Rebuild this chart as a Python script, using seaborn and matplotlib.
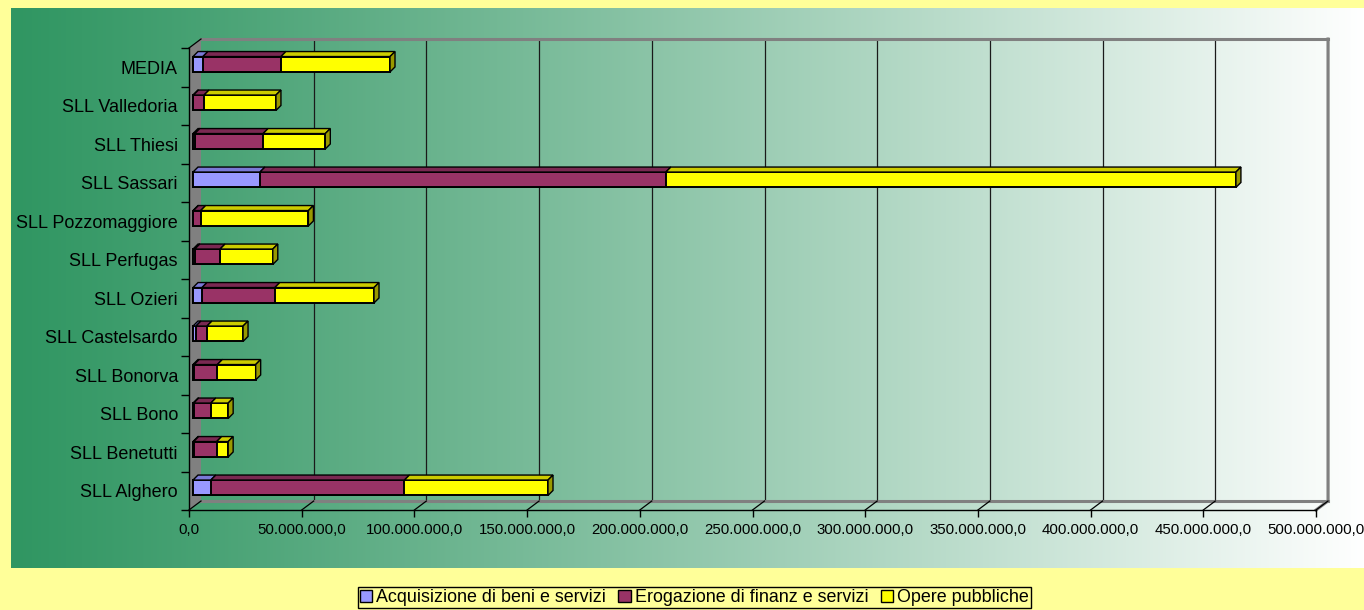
import numpy as np
import pandas as pd
import seaborn as sns
import matplotlib.pyplot as plt
from matplotlib.patches import Polygon, Patch
from matplotlib.transforms import ScaledTranslation
from matplotlib.ticker import FuncFormatter

# values (euro)
categories = ["MEDIA", "SLL Valledoria", "SLL Thiesi", "SLL Sassari", "SLL Pozzomaggiore",
              "SLL Perfugas", "SLL Ozieri", "SLL Castelsardo", "SLL Bonorva", "SLL Bono",
              "SLL Benetutti", "SLL Alghero"]
acquisizione = [4.4e6, 0.2e6, 0.8e6, 29.7e6, 0.2e6, 0.8e6, 4.0e6, 1.3e6, 0.5e6, 0.3e6, 0.3e6, 7.9e6]
erogazione = [34.6e6, 4.7e6, 30.3e6, 180.1e6, 3.2e6, 11.2e6, 32.3e6, 4.9e6, 10.3e6, 7.6e6, 10.2e6, 85.9e6]
opere = [48.4e6, 31.9e6, 27.6e6, 252.9e6, 47.8e6, 23.4e6, 44.0e6, 16.0e6, 17.0e6, 7.7e6, 5.1e6, 63.7e6]
series_names = ["Acquisizione di beni e servizi", "Erogazione di finanz e servizi", "Opere pubbliche"]
xticks = np.arange(0, 500e6 + 1, 50e6)

front = ["#9999FF", "#993366", "#FFFF00"]
top_c = ["#7A7AD6", "#7A2952", "#CCCC00"]
side_c = ["#6666B3", "#66223F", "#999900"]

plt.rcParams['font.family'] = ['Liberation Sans', 'DejaVu Sans']

df = pd.DataFrame({"cat": categories, "acq": acquisizione, "ero": erogazione, "ope": opere})
df["c1"] = df["acq"]
df["c2"] = df["acq"] + df["ero"]
df["c3"] = df["c2"] + df["ope"]

W, H = 1364, 610
fig = plt.figure(figsize=(W / 100, H / 100), dpi=100, facecolor="#FFFF99")

# green -> white gradient panel
bg = fig.add_axes([11 / W, 42 / H, 1353 / W, 560 / H], zorder=0)
c0 = np.array([0x30, 0x96, 0x62]) / 255
grad = np.linspace(0, 1, 512) ** 1.1
img = c0[None, None, :] * (1 - grad[None, :, None]) + grad[None, :, None]
img = np.repeat(img, 2, axis=0)
bg.imshow(img, aspect="auto", extent=[0, 1, 0, 1])
bg.axis("off")

ax = fig.add_axes([189 / W, 100 / H, 1127 / W, 462 / H], zorder=1)
ax.patch.set_alpha(0)

# stacked bars: draw cumulative totals, largest first
for col, c in zip(["c3", "c2", "c1"], front[::-1]):
    sns.barplot(data=df, x=col, y="cat", order=categories, orient="h", color=c,
                edgecolor="black", linewidth=1.4, width=0.4, saturation=1, ax=ax, zorder=3)

ax.set_xlim(0, 500e6)
ax.set_ylim(11.5, -0.5)

# bars sit a little behind the front plane
trans_bar = ax.transData + ScaledTranslation(4 / 100, 3 / 100, fig.dpi_scale_trans)
for p in ax.patches:
    p.set_transform(trans_bar)

px_x = 500e6 / 1127
px_y = 1 / 38.5
bdx, bdy = 5 * px_x, 5 * px_y
wdx, wdy = 12 * px_x, 9 * px_y

# 3d faces of the bars
for i in range(len(categories)):
    bounds = [0, df["c1"][i], df["c2"][i], df["c3"][i]]
    yt, yb = i - 0.2, i + 0.2
    for k in range(3):
        x0, x1 = bounds[k], bounds[k + 1]
        if x1 - x0 <= 0:
            continue
        ax.add_patch(Polygon([(x0, yt), (x1, yt), (x1 + bdx, yt - bdy), (x0 + bdx, yt - bdy)],
                             closed=True, fc=top_c[k], ec="black", lw=1.0,
                             transform=trans_bar, zorder=4, clip_on=False))
    x1 = bounds[3]
    ax.add_patch(Polygon([(x1, yt), (x1 + bdx, yt - bdy), (x1 + bdx, yb - bdy), (x1, yb)],
                         closed=True, fc=side_c[2], ec="black", lw=1.0,
                         transform=trans_bar, zorder=4, clip_on=False))

# walls, floor and gridlines
ax.add_patch(Polygon([(0, -0.5), (wdx, -0.5 - wdy), (wdx, 11.5 - wdy), (0, 11.5)],
                     closed=True, fc="#808080", ec="none", zorder=0.5, clip_on=False))
for v in xticks[1:]:
    ax.plot([v + wdx] * 2, [11.5 - wdy, -0.5 - wdy], color="#1a1a1a", lw=0.9, zorder=0.6, clip_on=False)
ax.plot([wdx, 500e6 + wdx], [-0.5 - wdy] * 2, color="#808080", lw=2.2, zorder=0.6, clip_on=False)
ax.plot([wdx, 500e6 + wdx], [11.5 - wdy] * 2, color="#808080", lw=2.2, zorder=0.6, clip_on=False)
ax.plot([500e6 + wdx, 500e6 + wdx, 500e6], [-0.5 - wdy, 11.5 - wdy, 11.5], color="#808080",
        lw=2.2, zorder=0.6, clip_on=False)
for v in xticks:
    ax.plot([v, v + wdx], [11.5, 11.5 - wdy], color="black", lw=0.9, zorder=0.7, clip_on=False)
ax.plot([0, wdx], [-0.5, -0.5 - wdy], color="black", lw=0.9, zorder=0.7, clip_on=False)

# axes
for s in ["top", "right"]:
    ax.spines[s].set_visible(False)
for s in ["left", "bottom"]:
    ax.spines[s].set_color("black")
    ax.spines[s].set_linewidth(1.0)
ax.grid(False)
ax.set_xlabel("")
ax.set_ylabel("")
ax.set_xticks(xticks)
ax.xaxis.set_major_formatter(FuncFormatter(
    lambda v, pos: f"{v:,.1f}".replace(",", "X").replace(".", ",").replace("X", ".")))
ax.tick_params(axis="x", length=5, width=1, pad=4, labelsize=10.8, color="black")
ax.set_yticks(range(len(categories)))
ax.set_yticklabels(categories)
ax.set_yticks(np.arange(-0.5, 12, 1), minor=True)
ax.tick_params(axis="y", which="major", length=0, pad=8, labelsize=13)
ax.tick_params(axis="y", which="minor", length=6, width=1, color="black")

handles = [Patch(facecolor=c, edgecolor="black", linewidth=1.0) for c in front]
leg = fig.legend(handles, series_names, loc="upper center", bbox_to_anchor=(0.509, 1 - 587 / H),
                 ncol=3, fontsize=12.9, frameon=True, fancybox=False, edgecolor="black",
                 facecolor="#FFFF99", framealpha=1, handlelength=0.7, handleheight=0.7,
                 handletextpad=0.2, columnspacing=0.7, borderpad=0.12, borderaxespad=0)
leg.get_frame().set_linewidth(1.0)

fig.savefig("out.png", dpi=100, facecolor=fig.get_facecolor())
